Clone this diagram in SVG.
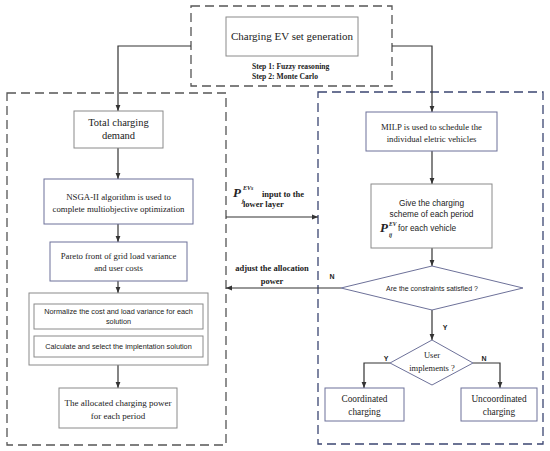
<svg xmlns="http://www.w3.org/2000/svg" width="550" height="451" viewBox="0 0 550 451">
<defs>
<marker id="arr" viewBox="0 0 10 10" refX="10" refY="5" markerWidth="6" markerHeight="6" orient="auto" markerUnits="userSpaceOnUse">
<path d="M0,1 L10,5 L0,9 Z" fill="#333"/>
</marker>
<style>
.bg{fill:#fff}
.gbox{fill:#fff;stroke:#8a8a8a;stroke-width:1}
.bbox{fill:#fff;stroke:#6d7199;stroke-width:1}
.dashg{fill:none;stroke:#555;stroke-width:1.3;stroke-dasharray:9,5}
.dashb{fill:none;stroke:#3b4672;stroke-width:1.3;stroke-dasharray:9,5}
.ser{font-family:"Liberation Serif",serif;fill:#222;text-anchor:middle}
.san{font-family:"Liberation Sans",sans-serif;fill:#222;text-anchor:middle}
.sanl{font-family:"Liberation Sans",sans-serif;fill:#222;text-anchor:start}
.bl{font-family:"Liberation Serif",serif;font-weight:bold;fill:#222}
.yn{font-family:"Liberation Sans",sans-serif;font-weight:bold;font-size:7px;fill:#222;text-anchor:middle}
.con{fill:none;stroke:#333;stroke-width:1.2}
</style>
</defs>
<rect class="bg" width="550" height="451"/>

<g id="top-group">
<rect class="dashg" x="191" y="6" width="201" height="80"/>
</g>
<g id="left-group">
<rect class="dashg" x="7" y="93" width="219" height="352"/>
</g>
<g id="right-group">
<rect class="dashb" x="318" y="92" width="225" height="352"/>
</g>

<g id="connectors">
<path class="con" d="M191,46 H118 V111" marker-end="url(#arr)"/>
<path class="con" d="M392,46 H432 V112" marker-end="url(#arr)"/>
<path class="con" d="M118,148 V179" marker-end="url(#arr)"/>
<path class="con" d="M118,224 V242" marker-end="url(#arr)"/>
<path class="con" d="M118,281 V293" marker-end="url(#arr)"/>
<path class="con" d="M118,365 V388" marker-end="url(#arr)"/>
<path class="con" d="M432,151 V184" marker-end="url(#arr)"/>
<path class="con" d="M432,248 V266" marker-end="url(#arr)"/>
<path class="con" d="M432,310 V340" marker-end="url(#arr)"/>
<path class="con" d="M390,363 H364 V388" marker-end="url(#arr)"/>
<path class="con" d="M473,363 H500 V388" marker-end="url(#arr)"/>
<path class="con" d="M226,217 H318" marker-end="url(#arr)"/>
<path class="con" d="M341,288 H226" marker-end="url(#arr)"/>
<text class="bl" font-size="8.5" x="272" y="271" text-anchor="middle">adjust the allocation</text>
<text class="bl" font-size="8.5" x="272" y="284" text-anchor="middle">power</text>
<text class="bl" font-size="13" font-style="italic" x="233" y="197">P</text>
<text class="bl" font-size="6" font-style="italic" x="243" y="190">EVs</text>
<text class="bl" font-size="6" font-style="italic" x="242" y="203">j</text>
<text class="bl" font-size="8.5" x="262" y="197">input to the</text>
<text class="bl" font-size="8.5" x="243" y="207">lower layer</text>
<text class="yn" x="332" y="279">N</text>
<text class="yn" x="445" y="330">Y</text>
<text class="yn" x="386" y="361">Y</text>
<text class="yn" x="484" y="361">N</text>
</g>

<g id="n-generation">
<rect class="gbox" x="226" y="17" width="132" height="39"/>
<text class="ser" font-size="11" x="292" y="40">Charging EV set generation</text>
<text class="bl" font-size="7.6" x="252" y="69">Step 1: Fuzzy  reasoning</text>
<text class="bl" font-size="7.6" x="252" y="78.5">Step 2: Monte Carlo</text>
</g>

<g id="n-total">
<rect class="gbox" x="74" y="111" width="89" height="37"/>
<text class="ser" font-size="10.5" x="118.5" y="126">Total charging</text>
<text class="ser" font-size="10.5" x="118.5" y="139">demand</text>
</g>

<g id="n-nsga">
<rect class="bbox" x="44" y="179" width="149" height="45"/>
<text class="ser" font-size="8.8" x="118.5" y="200">NSGA-II algorithm is used to</text>
<text class="ser" font-size="8.8" x="118.5" y="212">complete multiobjective optimization</text>
</g>

<g id="n-pareto">
<rect class="bbox" x="50" y="242" width="137" height="39"/>
<text class="ser" font-size="8.7" x="118.5" y="259">Pareto front of grid load variance</text>
<text class="ser" font-size="8.7" x="118.5" y="271">and user costs</text>
</g>

<g id="n-select">
<rect class="gbox" x="29" y="293" width="179" height="72"/>
<rect class="gbox" x="34" y="304" width="169" height="25"/>
<text class="san" font-size="7.3" x="118.5" y="313.5">Normalize the cost and load variance for each</text>
<text class="san" font-size="7.3" x="118.5" y="323.5">solution</text>
<rect class="gbox" x="34" y="336" width="169" height="21"/>
<text class="san" font-size="7.3" x="118.5" y="349">Calculate and select the implentation solution</text>
</g>

<g id="n-allocated">
<rect class="gbox" x="59" y="388" width="118" height="40"/>
<text class="ser" font-size="9" x="118" y="406">The allocated charging power</text>
<text class="ser" font-size="9" x="118" y="419">for each period</text>
</g>

<g id="n-milp">
<rect class="bbox" x="366" y="112" width="131" height="39"/>
<text class="ser" font-size="8.7" x="431.5" y="130">MILP is used to schedule the</text>
<text class="ser" font-size="8.7" x="431.5" y="142">individual eletric vehicles</text>
</g>

<g id="n-give">
<rect class="gbox" x="371" y="184" width="121" height="64"/>
<text class="san" font-size="8.3" x="431.5" y="206">Give the charging</text>
<text class="san" font-size="8.3" x="431.5" y="217">scheme of each period</text>
<text class="bl" font-size="13" font-style="italic" x="380" y="232">P</text>
<text class="bl" font-size="5.5" font-style="italic" x="389" y="225.5">EV</text>
<text class="bl" font-size="5.5" font-style="italic" x="389" y="237">ij</text>
<text class="sanl" font-size="8.3" x="398" y="231">for each vehicle</text>
</g>

<g id="n-constraints">
<polygon class="bbox" points="432,266 523,288 432,310 341,288"/>
<text class="san" font-size="7" x="432" y="290.5">Are the constraints satisfied ?</text>
</g>

<g id="n-user">
<polygon class="bbox" points="432,340 473,363 432,385 390,363"/>
<text class="ser" font-size="8.5" x="432" y="358">User</text>
<text class="ser" font-size="8.5" x="432" y="371">implements ?</text>
</g>

<g id="n-coord">
<rect class="bbox" x="325" y="388" width="79" height="33"/>
<text class="ser" font-size="9.3" x="364.5" y="402">Coordinated</text>
<text class="ser" font-size="9.3" x="364.5" y="415">charging</text>
</g>

<g id="n-uncoord">
<rect class="bbox" x="461" y="388" width="76" height="33"/>
<text class="ser" font-size="9.3" x="499" y="402">Uncoordinated</text>
<text class="ser" font-size="9.3" x="499" y="415">charging</text>
</g>
</svg>
